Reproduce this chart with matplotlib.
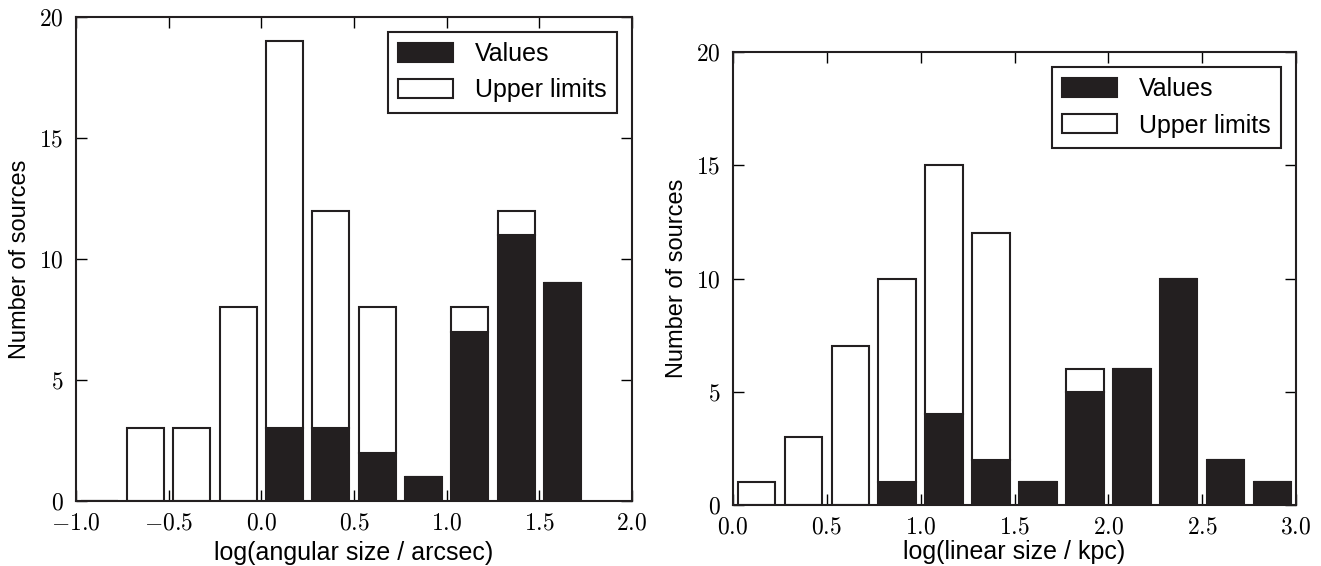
import numpy as np
import matplotlib
matplotlib.use("Agg")
import matplotlib.pyplot as plt
from matplotlib.ticker import FuncFormatter

plt.rcParams['mathtext.fontset'] = 'cm'
plt.rcParams['font.family'] = 'Liberation Sans'

# left panel: log(angular size), bins of 0.25 from -1.0
ang_edges = np.arange(-1.0, 1.76, 0.25)
ang_values = [0, 0, 0, 0, 3, 3, 2, 1, 7, 11, 9]
ang_upper = [0, 3, 3, 8, 16, 9, 6, 0, 1, 1, 0]

# right panel: log(linear size), bins of 0.25 from 0.0
lin_edges = np.arange(0.0, 3.01, 0.25)
lin_values = [0, 0, 0, 1, 4, 2, 1, 5, 6, 10, 2, 1]
lin_upper = [1, 3, 7, 9, 11, 10, 0, 1, 0, 0, 0, 0]

dark = '#231f20'

fig = plt.figure(figsize=(13.21, 5.66), dpi=100)
ax1 = fig.add_axes([76/1321, 1-501/566, (632-76)/1321, (501-17)/566])
ax2 = fig.add_axes([733/1321, 1-505/566, (1296-733)/1321, (505-52)/566])

panels = [(ax1, ang_edges, ang_values, ang_upper, 'log(angular size / arcsec)', (-1.0, 2.0), 5),
          (ax2, lin_edges, lin_values, lin_upper, 'log(linear size / kpc)', (0.0, 3.0), 1)]

for ax, edges, vals, upp, xlab, xlim, lpad in panels:
    centers = 0.5 * (edges[:-1] + edges[1:])
    w = 0.8 * (edges[1] - edges[0])
    ax.bar(centers, vals, width=w, color=dark, edgecolor=dark, linewidth=1.5, label='Values')
    ax.bar(centers, upp, width=w, bottom=vals, color='white', edgecolor=dark, linewidth=1.5,
           label='Upper limits')
    ax.set_xlim(*xlim)
    ax.set_ylim(0, 20)
    ax.set_xticks(np.arange(xlim[0], xlim[1] + 0.01, 0.5))
    ax.set_yticks([0, 5, 10, 15, 20])
    ax.xaxis.set_major_formatter(FuncFormatter(lambda v, p: r'$%.1f$' % v))
    ax.yaxis.set_major_formatter(FuncFormatter(lambda v, p: r'$%d$' % v))
    ax.tick_params(direction='in', top=True, right=True, length=8, width=1, labelsize=17)
    ax.tick_params(axis='x', pad=8)
    ax.tick_params(axis='y', pad=9)
    for s in ax.spines.values():
        s.set_linewidth(1.5)
        s.set_color(dark)
    ax.set_xlabel(xlab, fontsize=18, labelpad=lpad)
    ax.set_ylabel('Number of sources', fontsize=17, labelpad=6)
    leg = ax.legend(loc='upper right', fontsize=18, fancybox=False, framealpha=1,
                    handlelength=2.2, handleheight=0.8, borderpad=0.4, labelspacing=0.5,
                    handletextpad=0.9, borderaxespad=0.6)
    leg.get_frame().set_edgecolor(dark)
    leg.get_frame().set_linewidth(1.5)

fig.savefig('out.png', dpi=100)
